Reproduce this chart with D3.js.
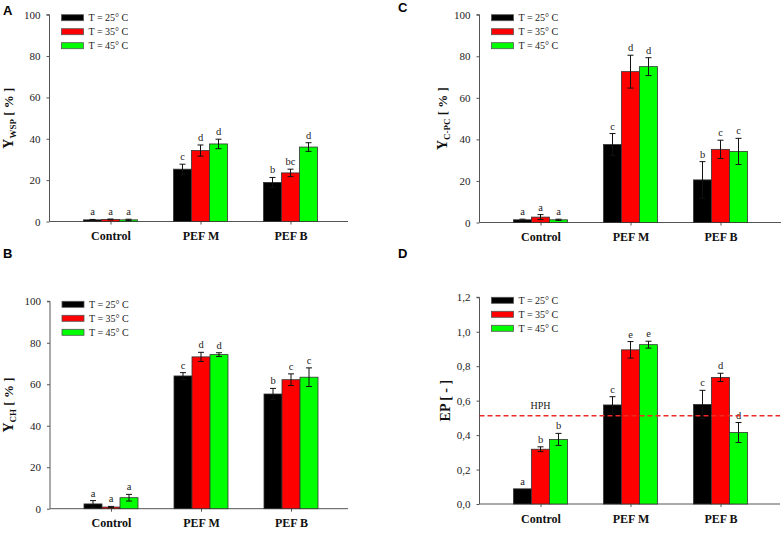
<!DOCTYPE html>
<html>
<head>
<meta charset="utf-8">
<style>
  body { margin: 0; background: #fff; }
  svg text { font-family: "Liberation Serif", "Times New Roman", "DejaVu Serif", serif; }
</style>
</head>
<body>
<svg id="chart" width="784" height="536"></svg>
<script src="https://cdn.jsdelivr.net/npm/d3@7"></script>
<script>
// categories and series
const groups = ["Control", "PEF M", "PEF B"]
const series = ["T = 25° C", "T = 35° C", "T = 45° C"]
const colors = ["#000000", "#ff0000", "#00ff00"]

// A: Y WSP [%]  (rows = series, columns = groups)
const wspMean = [[0.8, 25.3, 18.9], [1.0, 34.3, 23.5], [0.8, 37.5, 36.0]]
const wspErr  = [[0.2, 2.4, 2.4], [0.2, 2.7, 1.8], [0.3, 2.3, 2.1]]
const wspSig  = [["a", "c", "b"], ["a", "d", "bc"], ["a", "d", "d"]]

// B: Y CH [%]
const chMean = [[2.3, 64.0, 55.3], [0.8, 73.2, 62.2], [5.3, 74.3, 63.4]]
const chErr  = [[1.6, 1.6, 2.7], [0.3, 2.2, 2.8], [1.6, 0.9, 4.5]]
const chSig  = [["a", "c", "b"], ["a", "d", "c"], ["a", "d", "c"]]

// C: Y C-PC [%]
const cpcMean = [[1.3, 37.5, 20.5], [2.6, 72.6, 35.2], [1.3, 75.0, 34.2]]
const cpcErr  = [[0.3, 5.3, 8.8], [1.2, 7.9, 4.4], [0.3, 4.3, 6.3]]
const cpcSig  = [["a", "c", "b"], ["a", "d", "c"], ["a", "d", "c"]]

// D: EP [-]
const epMean = [[0.088, 0.575, 0.578], [0.318, 0.895, 0.735], [0.375, 0.925, 0.415]]
const epErr  = [[0.0, 0.048, 0.082], [0.014, 0.048, 0.024], [0.035, 0.02, 0.058]]
const epSig  = [["a", "c", "c"], ["b", "e", "d"], ["b", "e", "d"]]
const hphValue = 0.513

const serif = '"Liberation Serif", "Times New Roman", serif'
const svg = d3.select("#chart")

const panels = [
  {letter: "A", lx: 3, ly: 15, left: 49.5, right: 348, top: 14.7, bottom: 221.5, max: 100, ticks: d3.range(0, 101, 20),
   fmt: d3.format("d"), yMain: "Y", ySub: "WSP", yRest: " [ % ]", yLabelX: 13, mean: wspMean, err: wspErr, sig: wspSig},
  {letter: "B", lx: 3, ly: 258, left: 50, right: 348, top: 301.3, bottom: 508.7, max: 100, ticks: d3.range(0, 101, 20),
   fmt: d3.format("d"), yMain: "Y", ySub: "CH", yRest: " [ % ]", yLabelX: 13, mean: chMean, err: chErr, sig: chSig},
  {letter: "C", lx: 398, ly: 12, left: 479.5, right: 781, top: 14.7, bottom: 222.5, max: 100, ticks: d3.range(0, 101, 20),
   fmt: d3.format("d"), yMain: "Y", ySub: "C-PC", yRest: " [ % ]", yLabelX: 447, mean: cpcMean, err: cpcErr, sig: cpcSig},
  {letter: "D", lx: 398, ly: 258, left: 479.5, right: 780, top: 297.3, bottom: 504, max: 1.2, ticks: d3.range(0, 1.21, 0.2),
   fmt: v => d3.format(".1f")(v).replace(".", ","), yMain: "EP [ - ]", ySub: "", yRest: "", yLabelX: 450,
   mean: epMean, err: epErr, sig: epSig, hph: hphValue}
]

panels.forEach(drawPanel)

function drawPanel(p) {
  const g = svg.append("g")

  let y = d3.scaleLinear().domain([0, p.max]).range([p.bottom, p.top])
  let x = d3.scalePoint().domain(groups).range([p.left + 61, p.left + 241])
  let xs = d3.scaleBand().domain(series).range([-27, 27])

  // panel letter
  svg.append("text").attr("x", p.lx).attr("y", p.ly)
    .style("font-family", '"Liberation Sans", Arial, sans-serif')
    .style("font-weight", "bold").style("font-size", "13px").text(p.letter)

  // y axis
  let yAxis = g.append("g").attr("transform", `translate(${p.left},0)`)
    .call(d3.axisLeft(y).tickValues(p.ticks).tickFormat(p.fmt).tickSize(3).tickPadding(6))
  yAxis.attr("font-family", null)
  yAxis.selectAll("path,line").attr("stroke", "#555")
  yAxis.select(".domain").attr("d", `M-3,${p.top}H0V${p.bottom}`)
  yAxis.selectAll("text").style("font-size", "11px").style("font-family", serif).attr("fill", "#222")

  // x axis
  let xAxis = g.append("g").attr("transform", `translate(0,${p.bottom})`)
    .call(d3.axisBottom(x).tickSize(3).tickPadding(7))
  xAxis.attr("font-family", null)
  xAxis.select(".domain").attr("d", `M${p.left},0H${p.right}`).attr("stroke", "#555")
  xAxis.selectAll("line").attr("stroke", "#555")
  xAxis.selectAll("text").style("font-size", "12px").style("font-weight", "bold")
    .style("font-family", serif).attr("fill", "#111")

  // bars
  series.forEach((s, si) => {
    groups.forEach((grp, gi) => {
      let v = p.mean[si][gi], e = p.err[si][gi]
      let bx = x(grp) + xs(s)
      g.append("rect")
        .attr("x", bx).attr("y", y(v))
        .attr("width", xs.bandwidth()).attr("height", y(0) - y(v))
        .attr("fill", colors[si]).attr("stroke", "#333").attr("stroke-width", 0.8)
      let cx = bx + xs.bandwidth() / 2
      if (e > 0) {
        g.append("line").attr("x1", cx).attr("x2", cx).attr("y1", y(v - e)).attr("y2", y(v + e))
          .attr("stroke", "#111").attr("stroke-width", 1)
        ;[v - e, v + e].forEach(t => {
          g.append("line").attr("x1", cx - 3).attr("x2", cx + 3).attr("y1", y(t)).attr("y2", y(t))
            .attr("stroke", "#111").attr("stroke-width", 1)
        })
      }
      g.append("text").attr("x", cx).attr("y", y(v + e) - 4)
        .attr("text-anchor", "middle").style("font-size", "10.5px").style("font-family", serif)
        .attr("fill", "#222").text(p.sig[si][gi])
    })
  })

  // reference line
  if (p.hph !== undefined) {
    g.append("line").attr("x1", p.left).attr("x2", p.right)
      .attr("y1", y(p.hph)).attr("y2", y(p.hph))
      .attr("stroke", "#ee2a24").attr("stroke-width", 1.5).attr("stroke-dasharray", "5,3")
    g.append("text").attr("x", p.left + 61).attr("y", y(p.hph) - 7)
      .attr("text-anchor", "middle").style("font-size", "10px").style("font-family", serif)
      .attr("fill", "#222").text("HPH")
  }

  // legend
  let leg = g.append("g").attr("transform", `translate(${p.left + 12},${p.top})`)
  series.forEach((s, si) => {
    leg.append("rect").attr("x", 0).attr("y", si * 14).attr("width", 22).attr("height", 6)
      .attr("fill", colors[si]).attr("stroke", "#555").attr("stroke-width", 0.8)
    leg.append("text").attr("x", 27).attr("y", si * 14 + 6.5)
      .style("font-size", "10px").style("font-family", serif).attr("fill", "#222").text(s)
  })

  // y label
  let cy = (p.top + p.bottom) / 2
  let lab = g.append("text")
    .attr("transform", `translate(${p.yLabelX},${cy}) rotate(-90)`)
    .attr("text-anchor", "middle").style("font-family", serif)
    .style("font-weight", "bold").style("font-size", "14px").attr("fill", "#111")
  lab.append("tspan").text(p.yMain)
  if (p.ySub) {
    lab.append("tspan").attr("dy", 3).style("font-size", "9px").text(p.ySub)
    lab.append("tspan").attr("dy", -3).style("font-size", "13px").text(p.yRest)
  }
}
</script>
</body>
</html>
